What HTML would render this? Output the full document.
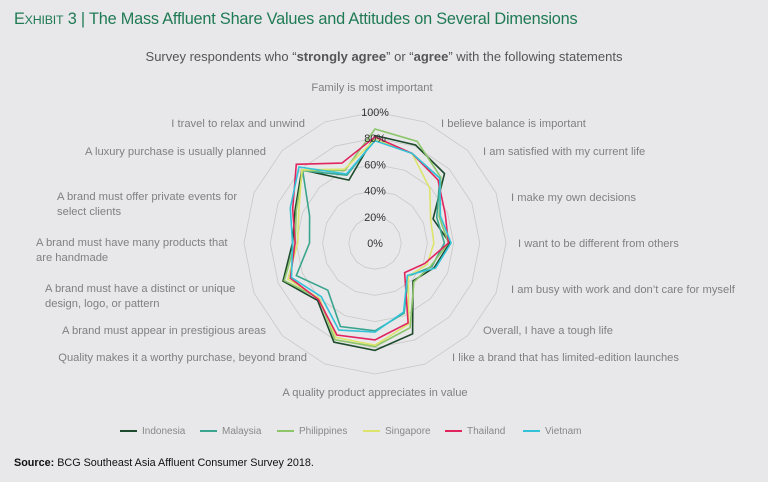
<!DOCTYPE html>
<html><head><meta charset="utf-8"><style>
body{margin:0;background:#e8e8ea;font-family:"Liberation Sans",sans-serif;}
#wrap{position:relative;width:768px;height:482px;overflow:hidden;background:#e8e8ea;}
.t{position:absolute;white-space:nowrap;}
.lab{position:absolute;font-size:11.2px;color:#808080;line-height:15px;}
</style></head><body>
<div id="wrap">
<div class="t" style="left:14px;top:10px;font-size:16.3px;color:#1f7a55;letter-spacing:-0.2px;">E<span style="font-size:12.4px">XHIBIT</span> 3 | The Mass Affluent Share Values and Attitudes on Several Dimensions</div>
<div class="t" style="left:0;width:768px;text-align:center;top:49px;font-size:13px;color:#555;">Survey respondents who “<b>strongly agree</b>” or “<b>agree</b>” with the following statements</div>
<svg id="svg" width="768" height="482" style="position:absolute;left:0;top:0"></svg>
<div id="labels"></div>
<div class="t" style="left:14px;top:457px;font-size:10.8px;color:#111;"><b>Source:</b> BCG Southeast Asia Affluent Consumer Survey 2018.</div>
</div>
<script>
const categories=["Family is most important","I believe balance is important","I am satisfied with my current life","I make my own decisions","I want to be different from others","I am busy with work and don’t care for myself","Overall, I have a tough life","I like a brand that has limited-edition launches","A quality product appreciates in value","Quality makes it a worthy purchase, beyond brand","A brand must appear in prestigious areas","A brand must have a distinct or unique design, logo, or pattern","A brand must have many products that are handmade","A brand must offer private events for select clients","A luxury purchase is usually planned","I travel to relax and unwind"];
const seriesNames=["Indonesia","Malaysia","Philippines","Singapore","Thailand","Vietnam"];
const indonesia=[82,81,75,48,57,49,41,75,82,82,62,76,63,66,79,52];
const malaysia=[79,74,70,51,53,47,36,58,67,69,51,65,50,54,78,56];
const philippines=[87,84,71,53,56,46,42,70,79,80,60,75,61,65,78,60];
const singapore=[79,74,59,46,45,43,36,67,78,78,60,72,59,63,79,61];
const thailand=[81,74,68,58,56,41,32,66,74,76,61,70,61,68,85,66];
const vietnam=[78,74,70,54,58,50,35,57,68,72,58,69,63,70,82,57];
const ringTicks=[0,20,40,60,80,100];
const seriesValues=[indonesia,malaysia,philippines,singapore,thailand,vietnam];
const colors=["#1d4a2c","#3aa58e","#8cc56a","#dde46c","#e0245e","#33c2d8"];
const cx=375,cy=243,R=131;
const svg=document.getElementById('svg');
const NS="http://www.w3.org/2000/svg";
function ang(i){return (i/categories.length)*2*Math.PI;}
function px(i,v){return cx+Math.sin(ang(i))*R*v/100;}
function py(i,v){return cy-Math.cos(ang(i))*R*v/100;}
ringTicks.forEach(t=>{
 if(t===0)return;
 const p=document.createElementNS(NS,'polygon');
 p.setAttribute('points',categories.map((c,i)=>px(i,t)+','+py(i,t)).join(' '));
 p.setAttribute('fill','none');p.setAttribute('stroke','#c8c8c8');p.setAttribute('stroke-width','0.8');
 
 
 svg.appendChild(p);
});
seriesValues.forEach((vals,s)=>{
 const p=document.createElementNS(NS,'polygon');
 p.setAttribute('points',vals.map((v,i)=>px(i,v).toFixed(1)+','+py(i,v).toFixed(1)).join(' '));
 p.setAttribute('fill','none');p.setAttribute('stroke',colors[s]);p.setAttribute('stroke-width','1.6');
 
 
 svg.appendChild(p);
});
ringTicks.forEach(t=>{
 const tx=document.createElementNS(NS,'text');
 tx.setAttribute('x',cx);tx.setAttribute('y',t===0?cy+4:cy-R*t/100+4);
 tx.setAttribute('text-anchor','middle');tx.setAttribute('font-size','10.8');tx.setAttribute('fill','#333');
 tx.setAttribute('font-family','Liberation Sans, sans-serif');
 tx.textContent=t+'%';
 
 
 svg.appendChild(tx);
});
const labelPos=[[372,81,'c'],[441,117,'l'],[483,145,'l'],[511,191,'l'],[518,237,'l'],[511,283,'l'],[483,324,'l'],[452,351,'l'],[375,386,'c'],[307,351,'r'],[266,324,'r'],[45,282,'l'],[36,236,'l'],[57,190,'l'],[266,145,'r'],[305,117,'r']];
const brk={11:"A brand must have a distinct or unique<br>design, logo, or pattern",12:"A brand must have many products that<br>are handmade",13:"A brand must offer private events for<br>select clients"};
const L=document.getElementById('labels');
categories.forEach((c,i)=>{
 const d=document.createElement('div');d.className='lab';
 const [x,y,a]=labelPos[i];
 d.style.top=y+'px';
 if(a==='c'){d.style.left=(x-200)+'px';d.style.width='400px';d.style.textAlign='center';}
 else if(a==='r'){d.style.right=(768-x)+'px';d.style.textAlign='right';d.style.whiteSpace='nowrap';}
 else {d.style.left=x+'px';d.style.whiteSpace='nowrap';}
 d.innerHTML=brk[i]||c;
 
 
 L.appendChild(d);
});
const legX=[120,200,277,363,445,523];
seriesNames.forEach((n,s)=>{
 const d=document.createElement('div');d.className='t';
 d.style.left=legX[s]+'px';d.style.top='426px';d.style.fontSize='10px';d.style.color='#888';
 d.innerHTML='<span style="display:inline-block;width:17px;height:2px;background:'+colors[s]+';vertical-align:middle;margin-right:5px"></span>'+n;
 
 
 L.appendChild(d);
});
</script>
</body></html>
